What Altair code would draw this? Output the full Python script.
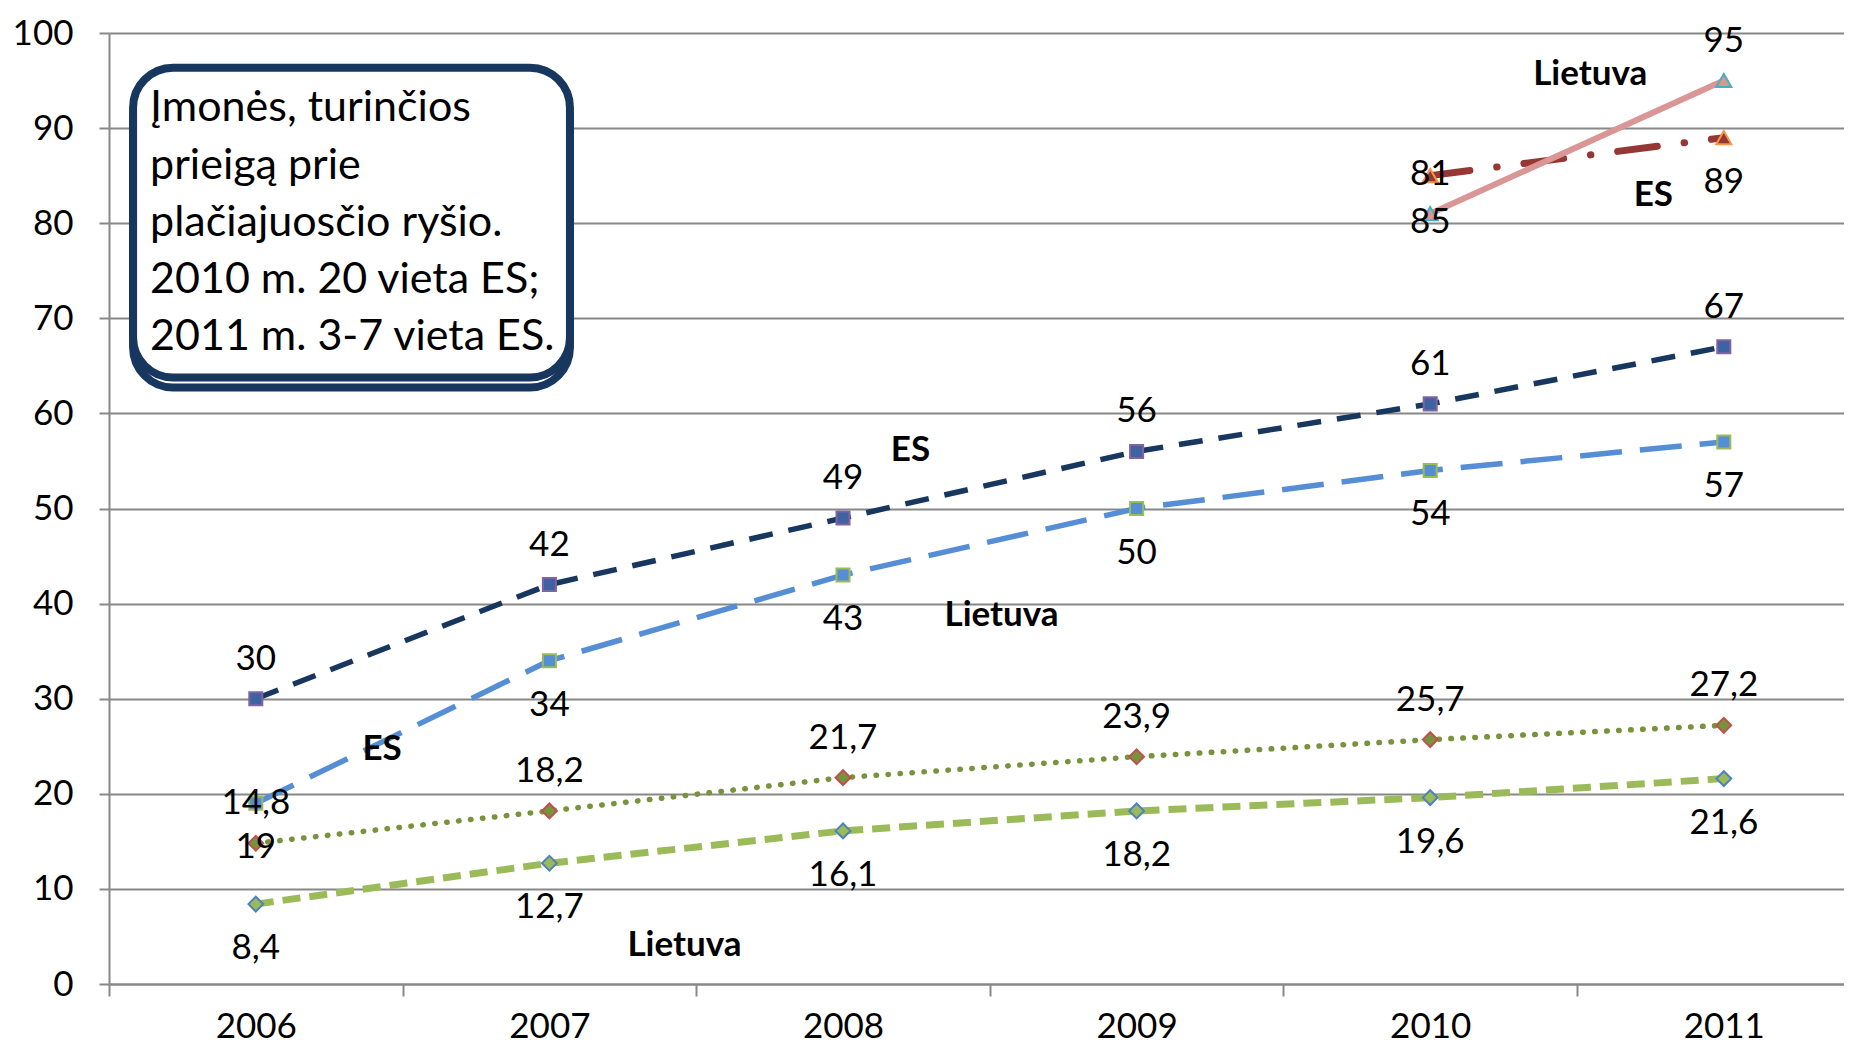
import altair as alt
import pandas as pd

# ---------------- data ----------------
years = [2006, 2007, 2008, 2009, 2010, 2011]
x_tick_labels = ["2006", "2007", "2008", "2009", "2010", "2011"]
y_ticks = [0, 10, 20, 30, 40, 50, 60, 70, 80, 90, 100]

es_broadband = [30, 42, 49, 56, 61, 67]
lt_broadband = [19, 34, 43, 50, 54, 57]
es_dotted = [14.8, 18.2, 21.7, 23.9, 25.7, 27.2]
lt_dashed = [8.4, 12.7, 16.1, 18.2, 19.6, 21.6]

fast_years = [2010, 2011]
lt_fast = [81, 95]
es_fast = [85, 89]
lt_fast_labels = ["85", "95"]
es_fast_labels = ["81", "89"]

box_lines = [
    "Įmonės, turinčios",
    "prieigą prie",
    "plačiajuosčio ryšio.",
    "2010 m. 20 vieta ES;",
    "2011 m. 3-7 vieta ES.",
]

ann_text = ["Lietuva", "ES", "ES", "Lietuva", "ES", "Lietuva"]
ann_x = [2010.545, 2010.76, 2008.23, 2008.54, 2006.43, 2007.46]
ann_y = [95.7, 83.0, 56.2, 38.8, 24.7, 4.1]


def fmt(v):
    return f"{v:g}".replace(".", ",")


# ---------------- styles ----------------
FONT = "Lato"
FS = 35
GRID = "#888888"
DY = {"above": -40, "below": 44, "center": -2, "lowcenter": 8}

series = [
    dict(x=years, y=es_broadband, labels=[fmt(v) for v in es_broadband],
         pos=["above"] * 6, color="#17375E", width=5.5, dash=[24, 16], cap="butt",
         shape="square", fill="#3F62A2", stroke="#8064A2", size=170),
    dict(x=years, y=lt_broadband, labels=[fmt(v) for v in lt_broadband],
         pos=["below"] * 6, color="#558ED5", width=5.5, dash=[42, 18], cap="butt",
         shape="square", fill="#558ED5", stroke="#9BBB59", size=170),
    dict(x=years, y=es_dotted, labels=[fmt(v) for v in es_dotted],
         pos=["above"] * 6, color="#77933C", width=5.5, dash=[0.5, 11.5], cap="round",
         shape="diamond", fill="#77933C", stroke="#C0504D", size=220),
    dict(x=years, y=lt_dashed, labels=[fmt(v) for v in lt_dashed],
         pos=["below"] * 6, color="#9BBB59", width=7, dash=[18, 9], cap="butt",
         shape="diamond", fill="#9BBB59", stroke="#4F81BD", size=220),
    dict(x=fast_years, y=es_fast, labels=es_fast_labels,
         pos=["center", "below"], color="#953735", width=7, dash=[40, 27, 0.5, 27],
         cap="round", shape="triangle-up", fill="#953735", stroke="#F79646", size=230),
    dict(x=fast_years, y=lt_fast, labels=lt_fast_labels,
         pos=["lowcenter", "above"], color="#D99694", width=6, dash=None, cap="butt",
         shape="triangle-up", fill="#D99694", stroke="#4BACC6", size=230),
]

# ---------------- scales / axes ----------------
PLOT_W = 1735
PLOT_H = 951
BAND = 293.6
x_domain = [2005.5, 2005.5 + PLOT_W / BAND]
xs = alt.Scale(domain=x_domain, nice=False, zero=False)
ys = alt.Scale(domain=[0, 100], nice=False, zero=True)

label_arr = "[" + ",".join(f"'{t}'" for t in x_tick_labels) + "]"
x_axis = alt.Axis(
    values=[y - 0.5 for y in years],
    labelExpr=f"{label_arr}[round(datum.value - {years[0] - 0.5})]",
    labelOffset=BAND / 2,
    grid=False, ticks=True, tickSize=12, tickWidth=2, tickColor=GRID,
    domainColor=GRID, domainWidth=2, labelPadding=13,
    labelFont=FONT, labelFontSize=FS, labelColor="black",
    labelBound=False, labelOverlap=False, labelFlush=False, title=None,
)
y_axis = alt.Axis(
    values=y_ticks, grid=True, gridColor=GRID, gridWidth=2,
    ticks=True, tickSize=10, tickWidth=2, tickColor=GRID,
    domainColor=GRID, domainWidth=2, labelPadding=26,
    labelFont=FONT, labelFontSize=FS, labelColor="black", title=None,
)

layers = []

# axes carrier (invisible)
base_df = pd.DataFrame({"x": years, "y": es_broadband})
layers.append(
    alt.Chart(base_df).mark_point(opacity=0).encode(
        x=alt.X("x:Q", scale=xs, axis=x_axis),
        y=alt.Y("y:Q", scale=ys, axis=y_axis),
    )
)

# lines (dash-dot drawn before the pink one)
for s in series:
    df = pd.DataFrame({"x": s["x"], "y": s["y"]})
    kw = dict(color=s["color"], strokeWidth=s["width"], strokeCap=s["cap"])
    if s["dash"]:
        kw["strokeDash"] = s["dash"]
    layers.append(
        alt.Chart(df).mark_line(**kw).encode(
            x=alt.X("x:Q", scale=xs), y=alt.Y("y:Q", scale=ys)
        )
    )

# markers
for s in series:
    df = pd.DataFrame({"x": s["x"], "y": s["y"]})
    layers.append(
        alt.Chart(df).mark_point(
            shape=s["shape"], filled=True, fill=s["fill"], stroke=s["stroke"],
            strokeWidth=2, size=s["size"], opacity=1,
        ).encode(x=alt.X("x:Q", scale=xs), y=alt.Y("y:Q", scale=ys))
    )

# data labels
for s in series:
    df = pd.DataFrame({"x": s["x"], "y": s["y"], "t": s["labels"], "p": s["pos"]})
    for p, dy in DY.items():
        sub = df[df["p"] == p]
        if len(sub) == 0:
            continue
        layers.append(
            alt.Chart(sub).mark_text(
                font=FONT, fontSize=FS, color="black", dy=dy,
                align="center", baseline="middle",
            ).encode(x=alt.X("x:Q", scale=xs), y=alt.Y("y:Q", scale=ys), text="t:N")
        )

# bold series annotations
ann_df = pd.DataFrame({"x": ann_x, "y": ann_y, "t": ann_text})
layers.append(
    alt.Chart(ann_df).mark_text(
        font=FONT, fontSize=FS, fontWeight="bold", color="black",
        align="center", baseline="middle",
    ).encode(x=alt.X("x:Q", scale=xs), y=alt.Y("y:Q", scale=ys), text="t:N")
)

# text box (shadow + main) in data coordinates
box_shadow = pd.DataFrame({"x": [2005.582], "x2": [2007.070], "y": [95.30], "y2": [62.73]})
box_main = pd.DataFrame({"x": [2005.582], "x2": [2007.070], "y": [96.35], "y2": [63.78]})
for bdf in (box_shadow, box_main):
    layers.append(
        alt.Chart(bdf).mark_rect(
            fill="white", stroke="#17375E", strokeWidth=8, cornerRadius=40,
        ).encode(
            x=alt.X("x:Q", scale=xs), x2="x2:Q",
            y=alt.Y("y:Q", scale=ys), y2="y2:Q",
        )
    )

box_df = pd.DataFrame({
    "t": box_lines,
    "x": [2005.64] * len(box_lines),
    "y": [90.7 - 6.0 * i for i in range(len(box_lines))],
})
layers.append(
    alt.Chart(box_df).mark_text(
        font=FONT, fontSize=43, color="black", align="left", baseline="alphabetic",
    ).encode(x=alt.X("x:Q", scale=xs), y=alt.Y("y:Q", scale=ys), text="t:N")
)

chart = (
    alt.layer(*layers)
    .properties(
        width=PLOT_W, height=PLOT_H,
        autosize=alt.AutoSizeParams(type="none"),
        padding={"left": 101, "top": 25, "right": 0, "bottom": 60},
    )
    .configure_view(stroke=None, clip=False)
    .configure(background="white")
)

chart.save("out.html", embed_options={"renderer": "svg", "actions": False})
